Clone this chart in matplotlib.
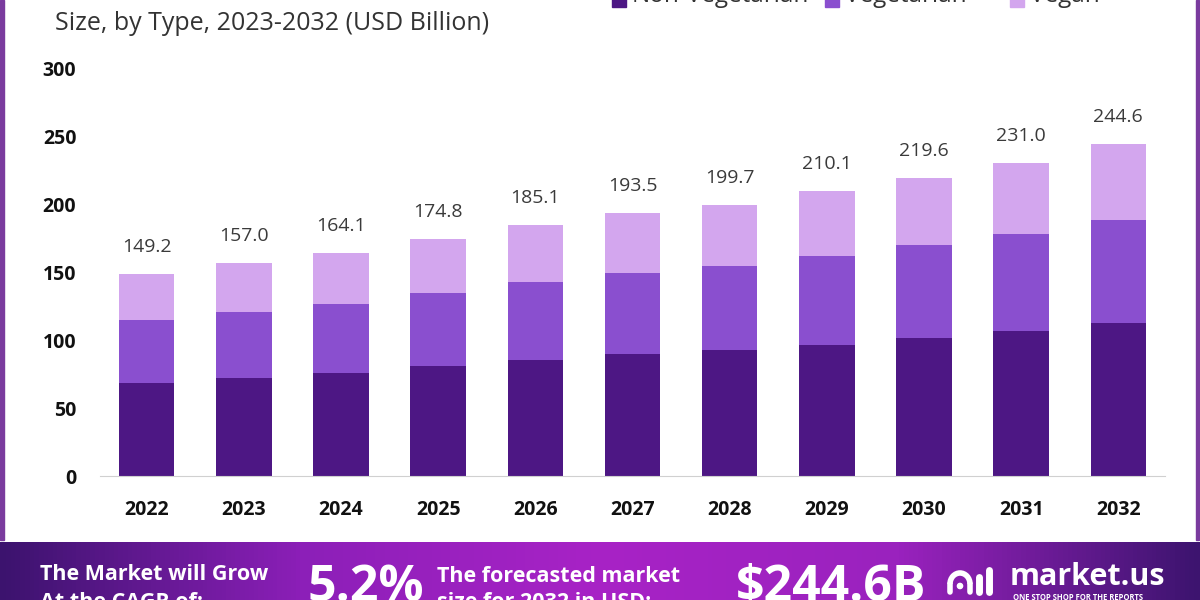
import numpy as np
import matplotlib.pyplot as plt
from matplotlib.colors import LinearSegmentedColormap
from matplotlib.patches import Arc, Rectangle, Circle

# data
years = ["2022", "2023", "2024", "2025", "2026", "2027", "2028", "2029", "2030", "2031", "2032"]
non_veg = [68.5, 72.2, 75.9, 81.1, 85.5, 89.9, 92.9, 96.5, 101.7, 106.9, 112.7]
veg = [46.5, 48.7, 50.8, 53.8, 57.5, 59.7, 61.9, 65.6, 68.5, 71.4, 76.0]
totals = [149.2, 157.0, 164.1, 174.8, 185.1, 193.5, 199.7, 210.1, 219.6, 231.0, 244.6]
vegan = [t - a - b for t, a, b in zip(totals, non_veg, veg)]
series_names = ["Non-Vegetarian", "Vegetarian", "Vegan"]
colors = ["#4d1784", "#8a4fcf", "#d3a6ee"]
y_ticks = [0, 50, 100, 150, 200, 250, 300]

fig = plt.figure(figsize=(12, 6), dpi=100)
fig.patch.set_facecolor("white")

# main chart
ax = fig.add_axes([100/1200, 124/600, 1065/1200, 407/600])
x = np.arange(len(years))
bottom = np.zeros(len(years))
for vals, c in zip([non_veg, veg, vegan], colors):
    ax.bar(x, vals, bottom=bottom, width=0.57, color=c, zorder=2)
    bottom += np.array(vals)

for xi, t in zip(x, totals):
    ax.annotate(f"{t:.1f}", (xi, t), xytext=(0, 13), textcoords="offset points",
                ha="center", va="bottom", fontsize=14, color="#3a3a3a",
                family="Open Sans")

ax.set_xlim(-0.48, 10.48)
ax.set_ylim(0, 300)
ax.set_yticks(y_ticks)
ax.set_xticks(x)
ax.set_xticklabels(years)
ax.tick_params(axis="both", length=0, labelsize=14, colors="#111111")
ax.tick_params(axis="y", pad=17)
ax.tick_params(axis="x", pad=17)
for lab in ax.get_xticklabels() + ax.get_yticklabels():
    lab.set_fontweight("bold")
    lab.set_family("Open Sans")
for s in ["top", "right", "left"]:
    ax.spines[s].set_visible(False)
ax.spines["bottom"].set_color("#d0d0d0")
ax.set_facecolor("none")

# subtitle and legend (cut by the top edge in the reference)
fig.text(55/1200, 1 - 24/600, "Size, by Type, 2023-2032 (USD Billion)", fontsize=18,
         color="#333333", va="center", ha="left", family="Open Sans")
leg_x = [612, 825, 1010]
for lx, name, c in zip(leg_x, series_names, colors):
    fig.patches.append(Rectangle((lx/1200, 1 - 7/600), 14/1200, 14/600,
                                 transform=fig.transFigure, color=c, figure=fig))
    fig.text((lx + 20)/1200, 1 + 4/600, name, fontsize=17.5, color="#333333",
             va="center", ha="left", family="Open Sans")

# side borders
fig.patches.append(Rectangle((0, 60/600), 4/1200, 540/600, transform=fig.transFigure,
                             color="#7a3b9e", figure=fig))
fig.patches.append(Rectangle((1196/1200, 60/600), 3/1200, 540/600, transform=fig.transFigure,
                             color="#7a3b9e", figure=fig))

# bottom banner, drawn in pixel units
bax = fig.add_axes([0, 0, 1, 58/600])
cmap = LinearSegmentedColormap.from_list("ban", ["#3c136e", "#8c1fb8", "#a823c6", "#9a22be", "#3d146f"])
grad = np.linspace(0, 1, 400).reshape(1, -1)
bax.imshow(grad, aspect="auto", cmap=cmap, extent=[0, 1200, 600, 542])
bax.set_xlim(0, 1200)
bax.set_ylim(600, 542)
bax.axis("off")

white = "white"
fig.text(40/1200, 1 - 574/600, "The Market will Grow", fontsize=15.5, color=white,
         fontweight="bold", va="center", family="Open Sans")
fig.text(40/1200, 1 - 603/600, "At the CAGR of:", fontsize=15.5, color=white,
         fontweight="bold", va="center", family="Open Sans")
fig.text(308/1200, 1 - 588/600, "5.2%", fontsize=36, color=white,
         fontweight="bold", va="center", family="Open Sans")
fig.text(437/1200, 1 - 576/600, "The forecasted market", fontsize=15.5, color=white,
         fontweight="bold", va="center", family="Open Sans")
fig.text(437/1200, 1 - 603/600, "size for 2032 in USD:", fontsize=15.5, color=white,
         fontweight="bold", va="center", family="Open Sans")
fig.text(736/1200, 1 - 588/600, "$244.6B", fontsize=36, color=white,
         fontweight="bold", va="center", family="Open Sans")

# logo icon
bax.add_patch(Arc((960, 584), 20, 22, theta1=180, theta2=360, lw=4, color=white))
bax.plot([950, 950], [584, 592], color=white, lw=4, solid_capstyle="round")
bax.plot([970, 970], [584, 592], color=white, lw=4, solid_capstyle="round")
bax.add_patch(Circle((960, 586), 2.6, color=white))
bax.plot([979, 979], [577, 592], color=white, lw=5, solid_capstyle="round")
bax.plot([989, 989], [570, 592], color=white, lw=5, solid_capstyle="round")

fig.text(1010/1200, 1 - 577/600, "market.us", fontsize=22, color=white,
         fontweight="bold", va="center", family="Open Sans")
fig.text(1013/1200, 1 - 597/600, "ONE STOP SHOP FOR THE REPORTS", fontsize=5.5, color=white,
         fontweight="bold", va="center", family="Open Sans")

fig.savefig("out.png", dpi=100)
